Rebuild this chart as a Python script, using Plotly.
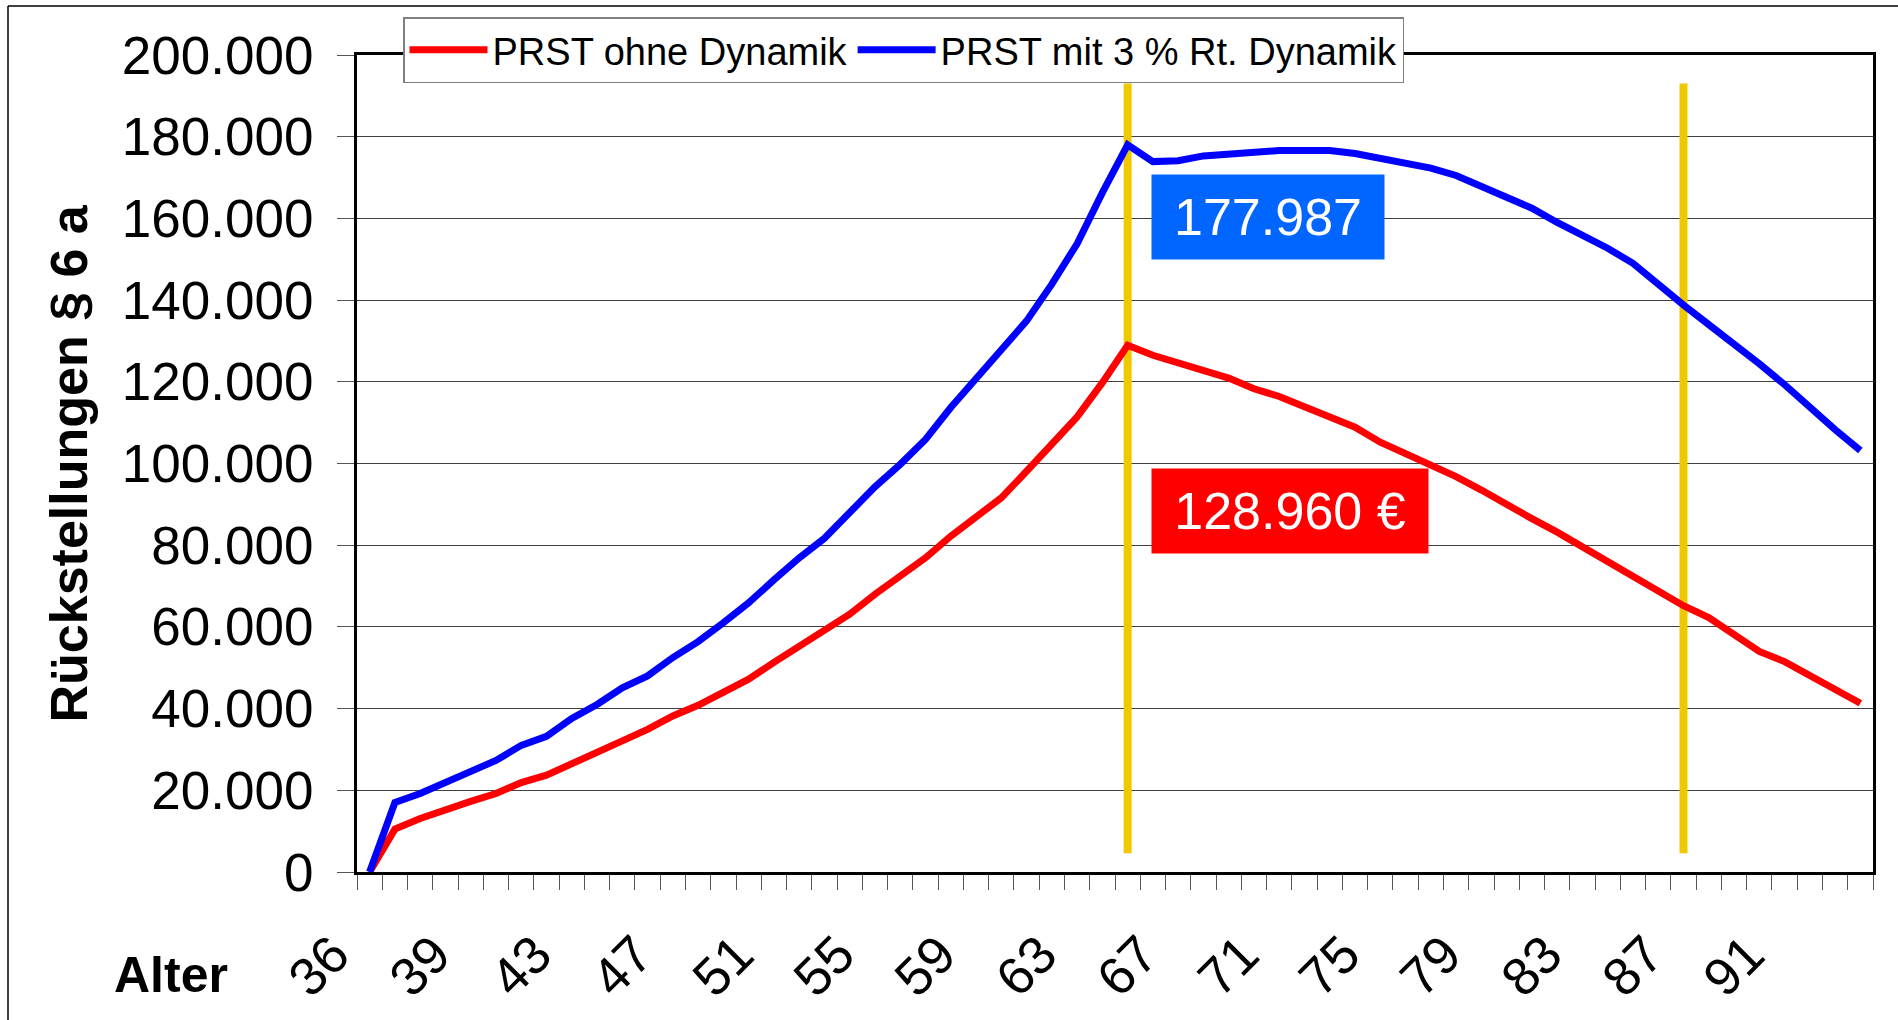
import plotly.graph_objects as go

# category index along the age axis (60 categories)
categories = list(range(60))
tick_positions = list(range(0, 60, 4))
tick_labels = ["36", "39", "43", "47", "51", "55", "59", "63", "67", "71",
               "75", "79", "83", "87", "91"]

prst_ohne = [0, 10500, 13100, 15300, 17300, 19200, 21900, 23700, 26400, 29000,
             32100, 34900, 38200, 40800, 43800, 47200, 51300, 55300, 59400, 63100,
             68000, 72500, 76900, 82200, 86900, 91600, 98100, 104700, 111400, 119800,
             128960, 126500, 124600, 122600, 120900, 118300, 116400, 113900, 111500, 108900,
             105200, 102400, 99600, 96800, 93500, 89900, 86500, 83200, 79600, 75700,
             72100, 68700, 65200, 62300, 57900, 54000, 51500, 48100, 44600, 41300]

prst_mit = [0, 17000, 19200, 22000, 24500, 27300, 31000, 33200, 37600, 41000,
            45100, 48000, 52500, 56400, 61000, 65900, 71500, 76900, 81700, 88100,
            94300, 99800, 105900, 113700, 120700, 127700, 134900, 143900, 153800, 166300,
            177987, 173900, 174100, 175300, 175800, 176500, 176600, 176600, 176600, 175900,
            174700, 173600, 172300, 170500, 167900, 165200, 162500, 159000, 156000, 152700,
            149000, 143800, 138800, 134000, 129300, 124400, 119300, 113700, 108300, 103200]

series_names = ["PRST ohne Dynamik", "PRST mit 3 % Rt. Dynamik"]
marker_categories = [30, 52]          # retirement age 65 and age 87
marker_y = [4600, 193000]
label_mit = "177.987"
label_ohne = "128.960 €"
y_title = "Rückstellungen § 6 a"
x_title = "Alter"

FONT = "Liberation Sans, Arial, sans-serif"
W, H = 1898, 1020
L, R, T, B = 357, 25, 55, 148


def px(xp):
    return (xp - L) / (W - L - R)


def py(yp):
    return (H - B - yp) / (H - T - B)


fig = go.Figure()
fig.add_trace(go.Scatter(x=categories, y=prst_ohne, mode="lines", name=series_names[0],
                         line=dict(color="#FF0000", width=7)))
fig.add_trace(go.Scatter(x=categories, y=prst_mit, mode="lines", name=series_names[1],
                         line=dict(color="#0000FF", width=7)))

for c in marker_categories:
    fig.add_shape(type="line", xref="x", yref="y", x0=c, x1=c, y0=marker_y[0], y1=marker_y[1],
                  line=dict(color="#F0C800", width=8), layer="between")

# outer chart frame
fig.add_shape(type="line", xref="paper", yref="paper", x0=px(8), x1=px(1910), y0=py(6), y1=py(6),
              line=dict(color="black", width=1.5))
fig.add_shape(type="line", xref="paper", yref="paper", x0=px(8), x1=px(8), y0=py(6), y1=py(1030),
              line=dict(color="black", width=1.5))

fig.add_annotation(x=px(1151), y=py(174), xref="paper", yref="paper", xanchor="left", yanchor="top",
                   text=label_mit, showarrow=False, bgcolor="#0066FF", width=232, height=84,
                   borderpad=0, align="center", valign="middle",
                   font=dict(family=FONT, size=52, color="white"))
fig.add_annotation(x=px(1151), y=py(468), xref="paper", yref="paper", xanchor="left", yanchor="top",
                   text=label_ohne, showarrow=False, bgcolor="#FF0000", width=276, height=84,
                   borderpad=0, align="center", valign="middle",
                   font=dict(family=FONT, size=52, color="white"))

fig.add_annotation(x=px(68), y=0.5, xref="paper", yref="paper", text="<b>" + y_title + "</b>",
                   textangle=-90, showarrow=False, xanchor="center", yanchor="middle",
                   font=dict(family=FONT, size=52, color="black"))
fig.add_annotation(x=px(171), y=py(975), xref="paper", yref="paper", text="<b>" + x_title + "</b>",
                   showarrow=False, xanchor="center", yanchor="middle",
                   font=dict(family=FONT, size=50, color="black"))

fig.update_layout(
    width=W, height=H,
    margin=dict(l=L, r=R, t=T, b=B, autoexpand=False),
    paper_bgcolor="white", plot_bgcolor="white",
    separators=",.",
    font=dict(family=FONT, color="black"),
    showlegend=True,
    legend=dict(orientation="h", x=px(403), y=py(17), xanchor="left", yanchor="top",
                bgcolor="white", bordercolor="#808080", borderwidth=1.5,
                font=dict(family=FONT, size=38, color="black"),
                itemwidth=78, tracegroupgap=0),
    xaxis=dict(range=[-0.5, 59.5], tickmode="array", tickvals=tick_positions, ticktext=tick_labels,
               tickangle=-45, ticks="", showgrid=False, zeroline=False,
               showline=True, linecolor="black", linewidth=3, mirror=True,
               tickfont=dict(family=FONT, size=53, color="black"),
               ticklabelstandoff=27, ticklabelshift=-36,
               minor=dict(tick0=-0.5, dtick=1, ticks="outside", ticklen=15,
                          tickcolor="#555555", tickwidth=1, showgrid=False)),
    yaxis=dict(range=[0, 200000], tickmode="linear", tick0=0, dtick=20000,
               tickformat=",.0f", ticks="outside", ticklen=17, tickcolor="#555555", tickwidth=1,
               showgrid=True, gridcolor="#404040", gridwidth=1, zeroline=False,
               showline=True, linecolor="black", linewidth=3, mirror=True,
               tickfont=dict(family=FONT, size=53, color="black"),
               ticklabelstandoff=13),
)

fig.write_html("out.html", config={"displayModeBar": False},
               post_script="document.body.style.margin='0';document.body.style.overflow='hidden';")
